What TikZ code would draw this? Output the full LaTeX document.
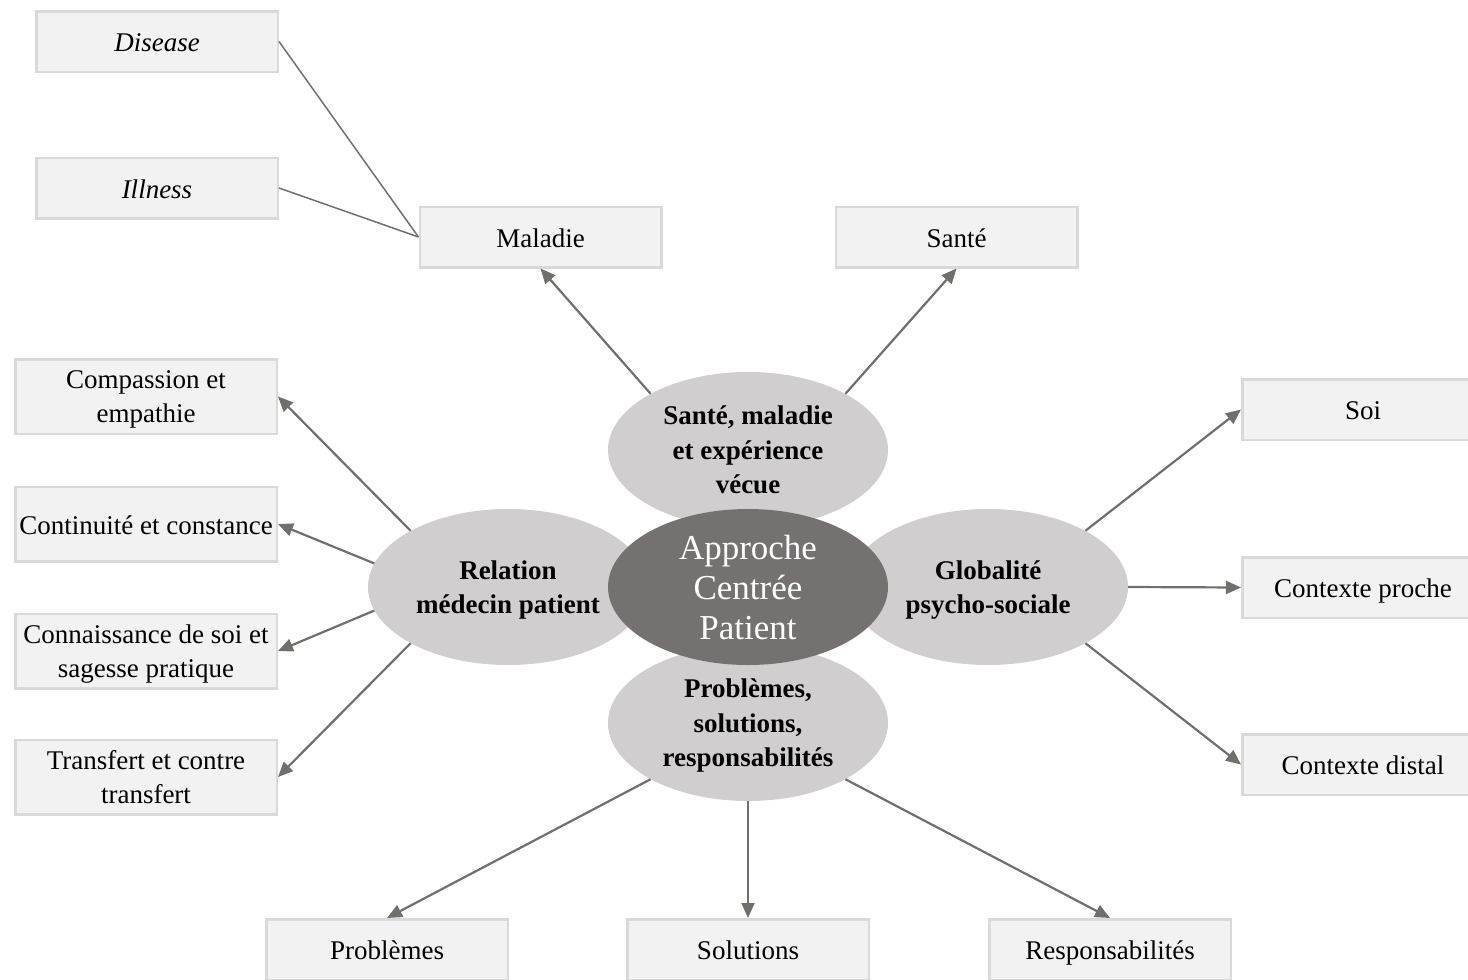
\documentclass[tikz,border=0pt]{standalone}
\usepackage{fontspec}
\setmainfont{Liberation Serif}
\usetikzlibrary{shapes.geometric,arrows.meta}
\definecolor{boxfill}{HTML}{F2F2F2}
\definecolor{boxline}{HTML}{D9D9D9}
\definecolor{petal}{HTML}{D0CECE}
\definecolor{core}{HTML}{767171}
\definecolor{link}{HTML}{6F6F6B}

\begin{document}
\begin{tikzpicture}[x=1pt, y=-1pt,
	leaf/.style={draw=boxline, fill=boxfill, line width=2.5pt, minimum width=241.5pt, minimum height=60.5pt, inner sep=0pt, align=center, font=\fontsize{27}{34}\selectfont, text height=20pt, text depth=0pt},
	wideleaf/.style={leaf, minimum width=261.5pt, minimum height=74.5pt},
	twolines/.style={text height=},
	petalnode/.style={ellipse, fill=petal, minimum width=280pt, minimum height=156pt, inner xsep=0pt, inner ysep=-6pt, align=center, font=\fontsize{27}{34.5}\selectfont\bfseries, text depth=0pt},
	corenode/.style={petalnode, fill=core, text=white, inner ysep=-16pt, font=\fontsize{35}{40}\selectfont},
	spoke/.style={draw=link, line width=2.2pt, -{Triangle[length=15pt,width=13pt]}},
	tie/.style={draw=link, line width=1.5pt}]
	%%%%% START %%%%%
	
	\useasboundingbox (0, 0) rectangle (1468, 980);
	
	% petals and centre
	\node[petalnode] (sante) at (748, 450) {Santé, maladie\\et expérience\\vécue};
	\node[petalnode] (relation) at (508, 587) {Relation\\médecin patient};
	\node[petalnode] (globalite) at (988, 587) {Globalité\\psycho-sociale};
	\node[petalnode] (problemes) at (748, 723) {Problèmes,\\solutions,\\responsabilités};
	\node[corenode] (acp) at (748, 587) {Approche\\Centrée\\Patient};
	
	% top boxes
	\node[leaf] (disease) at (157, 41.5) {\itshape Disease};
	\node[leaf] (illness) at (157, 188) {\itshape Illness};
	\node[leaf] (maladie) at (540.5, 237) {Maladie};
	\node[leaf] (bonnesante) at (956.5, 237) {Santé};
	
	% left boxes
	\node[wideleaf, twolines] (compassion) at (146, 396.5) {Compassion et\\empathie};
	\node[wideleaf] (continuite) at (146, 524) {Continuité et constance};
	\node[wideleaf, twolines] (connaissance) at (146, 651) {Connaissance de soi et\\sagesse pratique};
	\node[wideleaf, twolines] (transfert) at (146, 777) {Transfert et contre\\transfert};
	
	% right boxes
	\node[leaf] (soi) at (1363, 409.5) {Soi};
	\node[leaf] (proche) at (1363, 587.5) {Contexte proche};
	\node[leaf] (distal) at (1363, 764.5) {Contexte distal};
	
	% bottom boxes
	\node[leaf] (pbs) at (387, 949.5) {Problèmes};
	\node[leaf] (solutions) at (748, 949.5) {Solutions};
	\node[leaf] (resp) at (1110, 949.5) {Responsabilités};
	
	% connectors
	\draw[tie] (disease.east) -- (maladie.west);
	\draw[tie] (illness.east) -- (maladie.west);
	
	\draw[spoke] (sante.150) -- (maladie.south);
	\draw[spoke] (sante.30) -- (bonnesante.south);
	
	\draw[spoke] (relation.150) -- (compassion.east);
	\draw[spoke] (relation.170) -- (continuite.east);
	\draw[spoke] (relation.190) -- (connaissance.east);
	\draw[spoke] (relation.210) -- (transfert.east);
	
	\draw[spoke] (globalite.30) -- (soi.west);
	\draw[spoke] (globalite.0) -- (proche.west);
	\draw[spoke] (globalite.-30) -- (distal.west);
	
	\draw[spoke] (problemes.210) -- (pbs.north);
	\draw[spoke] (problemes.270) -- (solutions.north);
	\draw[spoke] (problemes.330) -- (resp.north);
	
	%%%%% END %%%%%
\end{tikzpicture}
\end{document}
